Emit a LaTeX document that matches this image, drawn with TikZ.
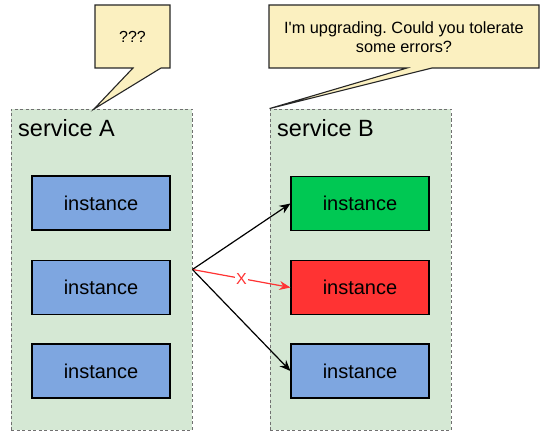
\documentclass[tikz,border=0pt]{standalone}
\usepackage{fontspec}
\setmainfont{Liberation Sans}
\usetikzlibrary{arrows.meta}
\frenchspacing

\definecolor{svcfill}{HTML}{D5E8D4}
\definecolor{svcline}{HTML}{707070}
\definecolor{instblue}{HTML}{7EA6E0}
\definecolor{instgreen}{HTML}{00C853}
\definecolor{instred}{HTML}{FF3333}
\definecolor{notefill}{HTML}{FBF0C0}

\begin{document}
\begin{tikzpicture}[x=1pt, y=-1pt,
    service/.style={draw=svcline, dash pattern=on 3pt off 2.5pt, line width=0.9pt, fill=svcfill, minimum width=181pt, minimum height=321pt},
    instance/.style={draw, line width=1.1pt, minimum width=138pt, minimum height=54pt, font=\fontsize{20}{24}\selectfont},
    callout/.style={draw=black!85, line width=1.1pt, fill=notefill, line join=miter},
    call/.style={-{Stealth[length=11pt, width=9pt]}, line width=1.2pt}]
    \useasboundingbox (0,0) rectangle (547,436);

    \node[service] (svcA) at (101.5,269.5) {};
    \node[service] (svcB) at (360.5,269.5) {};
    \node[anchor=base west, inner sep=0pt, font=\fontsize{23.5}{27}\selectfont] (nameA) at (18,136) {service A};
    \node[anchor=base west, inner sep=0pt, font=\fontsize{23.5}{27}\selectfont] (nameB) at (277,136) {service B};

    % speech bubbles
    \draw[callout] (95,5) -- (170,5) -- (170,68) -- (161,68) -- (94,109) -- (133,68) -- (95,68) -- cycle;
    \node[font=\fontsize{16}{20}\selectfont] (askA) at (132.5,37) {???};
    \draw[callout] (269,5) -- (539,5) -- (539,68) -- (432,68) -- (svcB.north west) -- (407,68) -- (269,68) -- cycle;
    \node[align=center, font=\fontsize{16.3}{19.5}\selectfont] (askB) at (404,37) {I\textquotesingle m upgrading. Could you tolerate\\some errors?};

    \node[instance, fill=instblue] (a1) at (101,203) {instance};
    \node[instance, fill=instblue] (a2) at (101,287.5) {instance};
    \node[instance, fill=instblue] (a3) at (101,371) {instance};

    \node[instance, fill=instgreen] (b1) at (360,203.5) {instance};
    \node[instance, fill=instred] (b2) at (360,287.5) {instance};
    \node[instance, fill=instblue] (b3) at (360,371) {instance};

    \draw[call] (svcA.east) -- (b1.west);
    \draw[call, draw=instred, fill=instred] (svcA.east) -- node[midway, fill=white, text=instred, inner sep=1.5pt, font=\fontsize{16}{18}\selectfont] {X} (b2.west);
    \draw[call] (svcA.east) -- (b3.west);
\end{tikzpicture}
\end{document}
